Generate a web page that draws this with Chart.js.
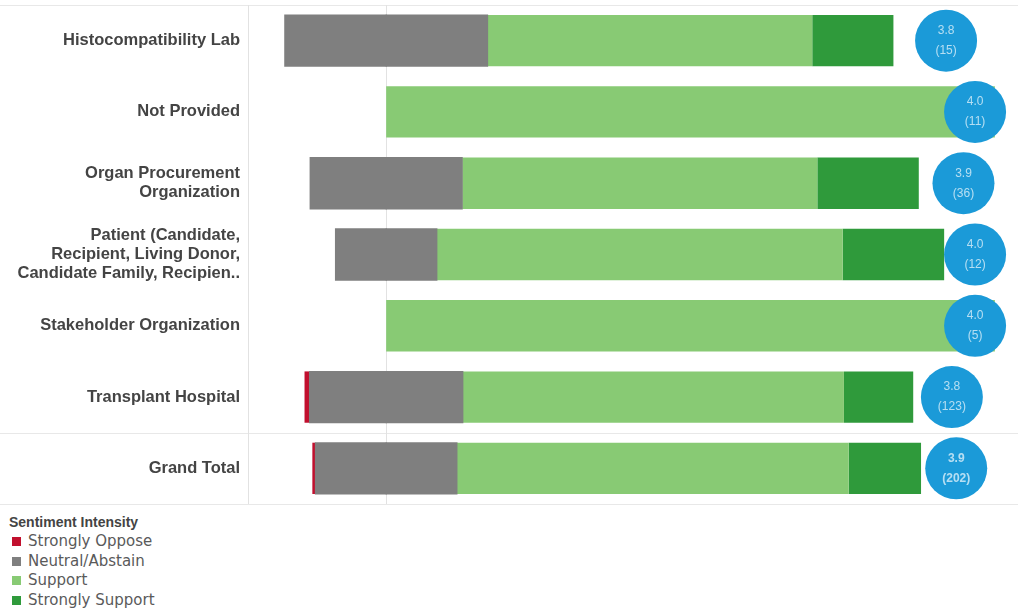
<!DOCTYPE html>
<html>
<head>
<meta charset="utf-8">
<script src="https://cdn.jsdelivr.net/npm/chart.js@4/dist/chart.umd.min.js"></script>
<style>
  body { margin: 0; background: #fff; font-family: "Liberation Sans", Arial, sans-serif; }
  #wrap { position: relative; width: 1018px; height: 507px; }
  #legend { position: absolute; left: 9px; top: 514px; font-size: 15px; color: #555; }
  #legend .title { font-weight: bold; color: #444; font-size: 14px; margin-bottom: 2px; }
  #legend .item { height: 19.6px; line-height: 19px; font-family: "DejaVu Sans", sans-serif; font-size: 15px; color: #5a5a5a; }
  #legend .sw { display: inline-block; width: 9px; height: 9px; margin: 0 7px 0 3px; vertical-align: 0px; }
</style>
</head>
<body>
<div id="wrap"><canvas id="bar_chart"></canvas></div>
<div id="legend"></div>
<script>
// DATA

const categories = [
  'Histocompatibility Lab',
  'Not Provided',
  ['Organ Procurement', 'Organization'],
  ['Patient (Candidate,', 'Recipient, Living Donor,', 'Candidate Family, Recipien..'],
  'Stakeholder Organization',
  'Transplant Hospital',
  'Grand Total'
];

// response counts per group
const strongly_oppose = [0, 0, 0, 0, 0, 1, 1];
const neutral_abstain = [5, 0, 9, 2, 0, 31, 47];
const support = [8, 11, 21, 8, 5, 77, 130];
const strongly_support = [2, 0, 6, 2, 0, 14, 24];

// average sentiment score and respondents
const avg_score = [3.80, 4.00, 3.92, 4.00, 4.00, 3.84, 3.87];
const respondents = [15, 11, 36, 12, 5, 123, 202];

const colors = {
  oppose: '#c1102e',
  neutral: '#7f7f7f',
  support: '#88ca74',
  strong: '#2f9a3b',
  bubble: '#1b9ad8'
};

// percentages of each group, neutral split round the zero line
const pct = (list) => list.map((v, i) => v / respondents[i] * 100);
const oppose_pct = pct(strongly_oppose);
const neutral_pct = pct(neutral_abstain);
const support_pct = pct(support);
const strong_pct = pct(strongly_support);

const row_labels = categories.map((c) => Array.isArray(c) ? c.join(' ') : c);

// ROW LINES + ZERO LINE
const rowLines = {
  id: 'rowLines',
  beforeDatasetsDraw(chart) {
    const ctx = chart.ctx;
    const y = chart.scales.y;
    const x = chart.scales.x;
    const step = y.getPixelForValue(1) - y.getPixelForValue(0);
    const lines = [y.getPixelForValue(0) - step / 2, y.getPixelForValue(5) + step / 2, y.getPixelForValue(6) + step / 2];
    ctx.save();
    ctx.strokeStyle = '#e8e8e8';
    ctx.lineWidth = 1;
    lines.forEach((p) => {
      ctx.beginPath();
      ctx.moveTo(0, Math.round(p) + 0.5);
      ctx.lineTo(chart.width, Math.round(p) + 0.5);
      ctx.stroke();
    });
    const zx = Math.round(x.getPixelForValue(0)) + 0.5;
    ctx.strokeStyle = '#e2e2e2';
    ctx.beginPath();
    ctx.moveTo(zx, lines[0]);
    ctx.lineTo(zx, lines[2]);
    ctx.stroke();
    const lx = Math.round(chart.chartArea.left) + 0.5;
    ctx.beginPath();
    ctx.moveTo(lx, lines[0]);
    ctx.lineTo(lx, lines[2]);
    ctx.stroke();
    ctx.restore();
  }
};

// TEXT IN CIRCLES
const bubbleText = {
  id: 'bubbleText',
  afterDatasetsDraw(chart) {
    const ctx = chart.ctx;
    const meta = chart.getDatasetMeta(0);
    ctx.save();
    ctx.textAlign = 'center';
    ctx.textBaseline = 'middle';
    meta.data.forEach((pt, i) => {
      ctx.fillStyle = 'rgba(255,255,255,0.68)';
      ctx.font = (i === 6 ? 'bold ' : '') + '12px "Liberation Sans", Arial, sans-serif';
      ctx.fillText(avg_score[i].toFixed(1), pt.x, pt.y - 10);
      ctx.fillText('(' + respondents[i] + ')', pt.x, pt.y + 10);
    });
    ctx.restore();
  }
};

const bar = (label, data, color, inflate) => ({
  type: 'bar',
  label: label,
  data: data,
  backgroundColor: color,
  borderWidth: 0,
  order: 1,
  inflateAmount: inflate ? (c) => (c.raw ? inflate : 0) : 'auto',
  xAxisID: 'x',
  yAxisID: 'y',
  barPercentage: 0.8,
  categoryPercentage: 0.9
});

const my_chart = new Chart(document.getElementById('bar_chart'), {
  type: 'bar',
  data: {
    labels: row_labels,
    datasets: [
      {
        type: 'bubble',
        label: 'Average',
        data: avg_score.map((v, i) => ({ x: v, y: row_labels[i], r: 31 })),
        backgroundColor: colors.bubble,
        borderWidth: 0,
        order: 0,
        xAxisID: 'x2',
        yAxisID: 'y',
        stack: 'bubble',
        clip: false
      },
      bar('Neutral/Abstain', neutral_pct.map((v) => -v / 2), colors.neutral, 0.5),
      bar('Strongly Oppose', oppose_pct.map((v) => -v), colors.oppose),
      bar('Neutral/Abstain', neutral_pct.map((v) => v / 2), colors.neutral, 0.5),
      bar('Support', support_pct, colors.support),
      bar('Strongly Support', strong_pct, colors.strong)
    ]
  },
  options: {
    indexAxis: 'y',
    responsive: true,
    maintainAspectRatio: false,
    animation: false,
    layout: { autoPadding: false, padding: { top: 5, bottom: 3, left: 0, right: 0 } },
    plugins: {
      legend: { display: false },
      tooltip: { enabled: false }
    },
    scales: {
      x: {
        stacked: true,
        display: false,
        min: -22.7,
        max: 103.8
      },
      x2: {
        type: 'linear',
        display: false,
        min: -1.014,
        max: 4.296
      },
      y: {
        stacked: true,
        grid: { display: false },
        border: { display: false },
        afterFit: (s) => { s.width = 248; s.paddingTop = 0; s.paddingBottom = 0; },
        ticks: {
          color: '#444',
          padding: 0,
          font: { family: '"Liberation Sans", Arial, sans-serif', size: 16.5, weight: 'bold', lineHeight: 1.15 },
          callback: (v, i) => categories[i]
        }
      }
    }
  },
  plugins: [rowLines, bubbleText]
});

// LEGEND
const legend_items = [
  ['Strongly Oppose', colors.oppose],
  ['Neutral/Abstain', colors.neutral],
  ['Support', colors.support],
  ['Strongly Support', colors.strong]
];
let html = '<div class="title">Sentiment Intensity</div>';
legend_items.forEach((it) => {
  html += `<div class="item"><span class="sw" style="background:${it[1]}"></span>${it[0]}</div>`;
});
document.getElementById('legend').innerHTML = html;
</script>
</body>
</html>
